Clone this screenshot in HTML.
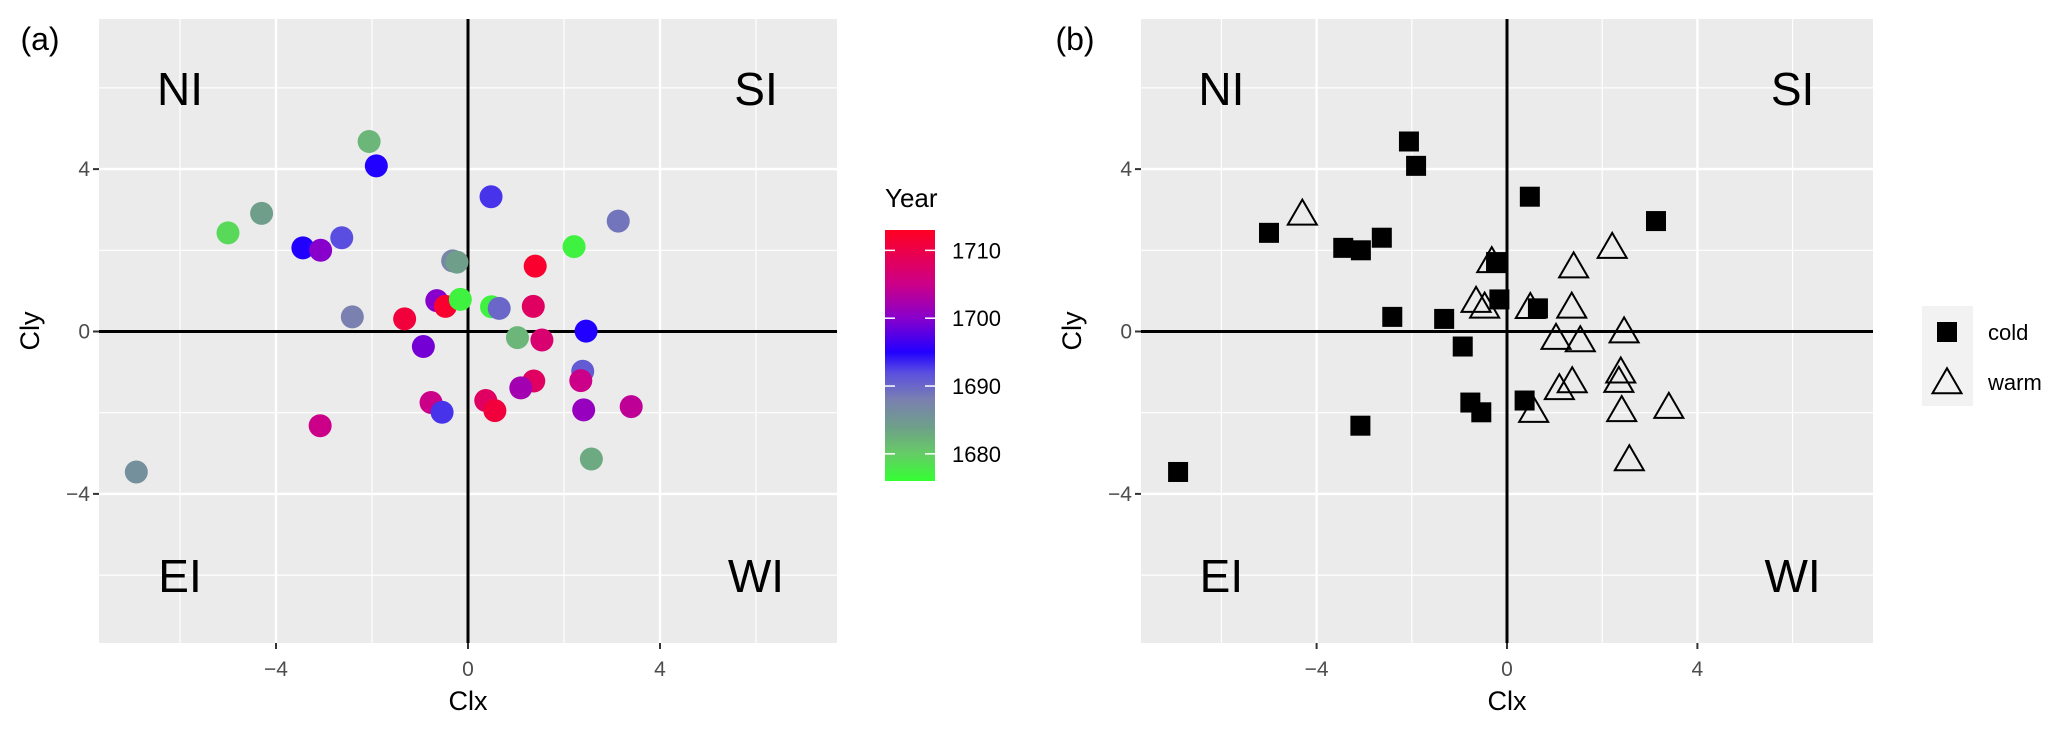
<!DOCTYPE html>
<html><head><meta charset="utf-8"><style>
html,body{margin:0;padding:0;background:#fff;}
svg{display:block;font-family:"Liberation Sans",Arial,sans-serif;}
</style></head><body>
<svg id="fig" width="2067" height="729" viewBox="0 0 2067 729" xmlns="http://www.w3.org/2000/svg">
<defs>
<linearGradient id="yearGrad" x1="0" y1="1" x2="0" y2="0">
<stop offset="0" stop-color="#33ff33"/>
<stop offset="0.108" stop-color="#66cc66"/>
<stop offset="0.216" stop-color="#6f9f8a"/>
<stop offset="0.324" stop-color="#7a80b0"/>
<stop offset="0.432" stop-color="#5a4ee0"/>
<stop offset="0.514" stop-color="#2200ff"/>
<stop offset="0.649" stop-color="#8800cc"/>
<stop offset="0.784" stop-color="#cc0088"/>
<stop offset="1" stop-color="#ff0022"/>
</linearGradient>
</defs>
<g id="layer"></g>
</svg>
<script>
const xs = [-2.06,-1.91,0.48,-4.30,-5.0,3.13,-2.63,-3.44,-3.07,2.21,-0.32,-0.23,1.40,-0.65,-0.47,-0.16,0.49,0.65,1.36,-1.32,-2.41,2.46,1.03,1.54,-0.93,2.39,2.35,1.37,1.10,-0.77,-0.54,0.37,0.56,2.41,3.40,-3.08,2.57,-6.91];
const ys = [4.68,4.08,3.32,2.91,2.43,2.72,2.31,2.06,2.0,2.09,1.74,1.71,1.61,0.76,0.62,0.79,0.61,0.57,0.62,0.31,0.36,0.01,-0.15,-0.21,-0.37,-0.98,-1.21,-1.22,-1.39,-1.75,-1.99,-1.70,-1.95,-1.93,-1.85,-2.32,-3.14,-3.46];
const years = [1682,1695,1693,1684,1679,1689,1692,1695,1700,1677,1687,1684,1712,1700,1712,1677,1677,1690,1708,1711,1688,1695,1682,1707,1699,1691,1705,1708,1702,1705,1693,1708,1711,1701,1704,1705,1683,1686];
const types = ["cold","cold","cold","warm","cold","cold","cold","cold","cold","warm","warm","cold","warm","warm","warm","cold","warm","cold","warm","cold","cold","warm","warm","warm","cold","warm","warm","warm","warm","cold","cold","cold","warm","warm","warm","cold","warm","cold"];
const xTicks = [-4,0,4];
const yTicks = [4,0,-4];
const yearTicks = [1680,1690,1700,1710];
const quadLabels = ["NI","SI","EI","WI"];
const quadX = [-6,6,-6,6];
const quadY = [6,6,-6,-6];

const NS="http://www.w3.org/2000/svg";
const layer=document.getElementById('layer');
function mk(tag,attrs,parent){const e=document.createElementNS(NS,tag);for(const k in attrs)e.setAttribute(k,attrs[k]);(parent||layer).appendChild(e);return e;}

const stops=[[1676,[51,255,51]],[1680,[102,204,102]],[1684,[111,159,138]],[1688,[122,128,176]],[1692,[90,78,224]],[1695,[34,0,255]],[1700,[136,0,204]],[1705,[204,0,136]],[1713,[255,0,34]]];
function yearColor(y){
  if(y<=stops[0][0])return 'rgb('+stops[0][1]+')';
  for(let i=1;i<stops.length;i++){if(y<=stops[i][0]){const a=stops[i-1],b=stops[i];const t=(y-a[0])/(b[0]-a[0]);const c=a[1].map((v,j)=>Math.round(v+(b[1][j]-v)*t));return 'rgb('+c.join(',')+')';}}
  return 'rgb('+stops[stops.length-1][1]+')';
}
const TOP=19, BOT=643;
function panel(p){
  const g=mk('g',{});
  
  
  const X=v=>p.x0+v*p.sx, Y=v=>331.5-v*40.6;
  const bg=mk('rect',{x:p.left,y:TOP,width:p.right-p.left,height:BOT-TOP,fill:'#ebebeb'},g);
  
  
  [-6,-2,2,6].forEach(v=>{
    mk('line',{x1:X(v),x2:X(v),y1:TOP,y2:BOT,stroke:'#fff','stroke-width':1.2},g);
    mk('line',{x1:p.left,x2:p.right,y1:Y(v),y2:Y(v),stroke:'#fff','stroke-width':1.2},g);
  });
  [-4,0,4].forEach(v=>{
    mk('line',{x1:X(v),x2:X(v),y1:TOP,y2:BOT,stroke:'#fff','stroke-width':2.4},g);
    mk('line',{x1:p.left,x2:p.right,y1:Y(v),y2:Y(v),stroke:'#fff','stroke-width':2.4},g);
  });
  const h=mk('line',{x1:p.left,x2:p.right,y1:Y(0),y2:Y(0),stroke:'#000','stroke-width':3},g);
  
  
  const v0=mk('line',{x1:X(0),x2:X(0),y1:TOP,y2:BOT,stroke:'#000','stroke-width':3},g);
  
  
  xTicks.forEach(v=>{
    mk('line',{x1:X(v),x2:X(v),y1:BOT,y2:BOT+6,stroke:'#333','stroke-width':2},g);
    const t=mk('text',{x:X(v),y:676,'text-anchor':'middle','font-size':21,fill:'#4d4d4d'},g);
    t.textContent=(v<0?'\u2212':'')+Math.abs(v);
    
    
  });
  yTicks.forEach(v=>{
    mk('line',{x1:p.left-6,x2:p.left,y1:Y(v),y2:Y(v),stroke:'#333','stroke-width':2},g);
    const t=mk('text',{x:p.left-9,y:Y(v)+7,'text-anchor':'end','font-size':21,fill:'#4d4d4d'},g);
    t.textContent=(v<0?'\u2212':'')+Math.abs(v);
    
    
  });
  const xt=mk('text',{x:X(0),y:710,'text-anchor':'middle','font-size':27,fill:'#000'},g);
  xt.textContent='Clx';
  
  
  const yt=mk('text',{x:0,y:0,'text-anchor':'middle','font-size':27,fill:'#000',transform:'translate('+(p.left-60)+',331) rotate(-90)'},g);
  yt.textContent='Cly';
  
  
  quadLabels.forEach((q,i)=>{
    const t=mk('text',{x:X(quadX[i]),y:Y(quadY[i])+17,'text-anchor':'middle','font-size':46,fill:'#000'},g);
    t.textContent=q;
    
    
  });
  const tag=mk('text',{x:p.tagX,y:50,'text-anchor':'middle','font-size':32,fill:'#000'},g);
  tag.textContent='('+p.id+')';
  
  
  return {g,X,Y};
}

// Panel a
const A=panel({id:'a',left:99,right:837,x0:468,sx:48,tagX:40});
xs.forEach((x,i)=>{
  const c=mk('circle',{cx:A.X(x),cy:A.Y(ys[i]),r:11.5,fill:yearColor(years[i])},A.g);
  
  
});
const lg=mk('g',{});


const lt=mk('text',{x:885,y:207,'font-size':26,fill:'#000'},lg);
lt.textContent='Year';


const bar=mk('rect',{x:885,y:230,width:50,height:251,fill:'url(#yearGrad)'},lg);


const YB=yr=>481-(yr-1676)*(251/37);
yearTicks.forEach(yr=>{
  mk('line',{x1:885,x2:895,y1:YB(yr),y2:YB(yr),stroke:'#fff','stroke-width':1.5},lg);
  mk('line',{x1:925,x2:935,y1:YB(yr),y2:YB(yr),stroke:'#fff','stroke-width':1.5},lg);
  const t=mk('text',{x:952,y:YB(yr)+8,'font-size':22,fill:'#000'},lg);
  t.textContent=yr;
  
  
});

// Panel b
const B=panel({id:'b',left:1141,right:1873,x0:1507,sx:47.6,tagX:1075});
function tri(cx,cy,parent){
  const w=29,h=25;
  return mk('polygon',{points:(cx-w/2)+','+(cy+h*0.45)+' '+(cx+w/2)+','+(cy+h*0.45)+' '+cx+','+(cy-h*0.55),fill:'none',stroke:'#000','stroke-width':2},parent);
}
xs.forEach((x,i)=>{
  const cx=B.X(x),cy=B.Y(ys[i]);
  let e;
  if(types[i]==='cold'){e=mk('rect',{x:cx-10,y:cy-10,width:20,height:20,fill:'#000'},B.g);}
  else{e=tri(cx,cy,B.g);}
  
  
});
const lb=mk('g',{});


mk('rect',{x:1922,y:306,width:51,height:100,fill:'#f2f2f2'},lb);
const ks=mk('rect',{x:1937,y:322,width:20,height:20,fill:'#000'},lb);


const kt=tri(1947,382,lb);


[['cold',340],['warm',390]].forEach(a=>{
  const t=mk('text',{x:1988,y:a[1],'font-size':22,fill:'#000'},lb);
  t.textContent=a[0];
  
  
});
</script>
</body></html>
